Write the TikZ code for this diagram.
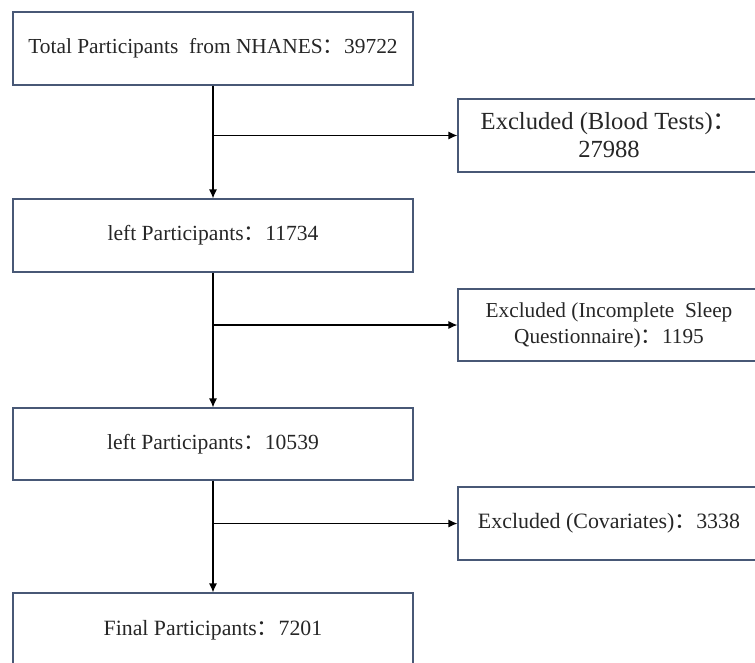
\documentclass[tikz,border=0pt]{standalone}
\usepackage{fontspec}
\usetikzlibrary{arrows.meta}
\setmainfont{Liberation Serif}
\newfontfamily\cjk{Noto Sans CJK SC}
\newcommand{\fcolon}{{\cjk ：}}
\definecolor{boxline}{RGB}{72,88,118}
\begin{document}
\begin{tikzpicture}[
  x=1pt,y=-1pt,
  >={Latex[length=9pt,width=8pt]},
  stagebox/.style={draw=boxline,line width=1.1pt,text=black!85,align=center,minimum width=400pt,inner sep=0pt},
  exclbox/.style={draw=boxline,line width=1.1pt,text=black!85,align=center,minimum width=302pt,minimum height=73pt,inner sep=0pt},
  flow/.style={->,line width=1.2pt,black}
]
  \useasboundingbox (0,0) rectangle (755,662);
  \node[stagebox,minimum height=73pt,font=\fontsize{21.4}{24}\selectfont] (total) at (213,48.5) {Total Participants\ \ from NHANES\fcolon 39722};
  \node[stagebox,minimum height=73pt,font=\fontsize{21.6}{24}\selectfont] (left1) at (213,235.5) {left Participants\fcolon 11734};
  \node[stagebox,minimum height=72pt,font=\fontsize{21.6}{24}\selectfont] (left2) at (213,444) {left Participants\fcolon 10539};
  \node[stagebox,minimum height=75pt,font=\fontsize{21.8}{24}\selectfont] (final) at (213,630.5) {Final Participants\fcolon 7201};
  \node[exclbox,font=\fontsize{24.6}{28}\selectfont] (excl1) at (609,135.5) {Excluded (Blood Tests)\fcolon\\27988};
  \node[exclbox,minimum height=72pt,font=\fontsize{21.3}{26}\selectfont] (excl2) at (609,325) {Excluded (Incomplete\ \ Sleep\\Questionnaire)\fcolon 1195};
  \node[exclbox,font=\fontsize{21.9}{26}\selectfont] (excl3) at (609,523.5) {Excluded (Covariates)\fcolon 3338};

  \coordinate (split1) at (213,135.5);
  \coordinate (split2) at (213,325);
  \coordinate (split3) at (213,523.5);

  \draw[flow] (total) -- (left1);
  \draw[flow] (left1) -- (left2);
  \draw[flow] (left2) -- (final);
  \draw[flow] (split1) -- (excl1);
  \draw[flow] (split2) -- (excl2);
  \draw[flow] (split3) -- (excl3);
\end{tikzpicture}
\end{document}
